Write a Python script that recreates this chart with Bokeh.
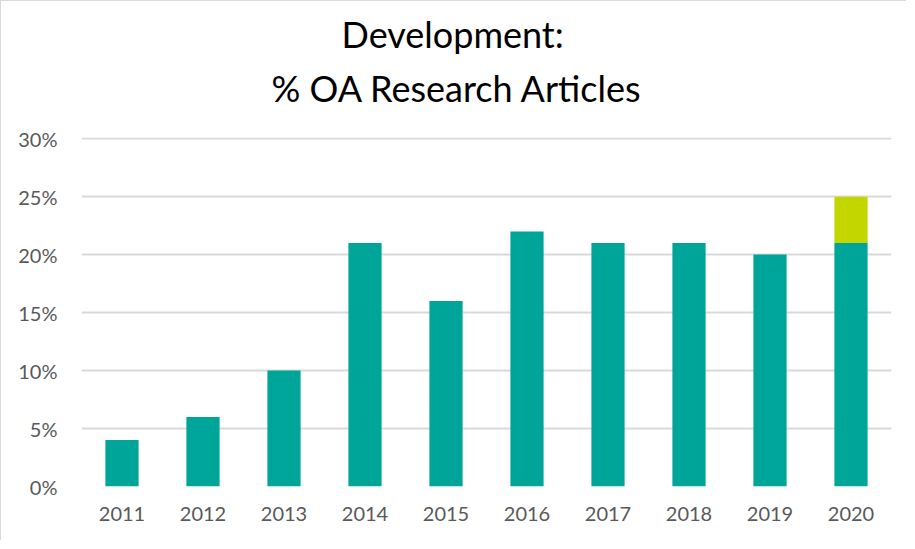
from bokeh.plotting import figure
from bokeh.models import ColumnDataSource, Range1d, FactorRange, Title, FixedTicker, CustomJSTickFormatter
from bokeh.embed import file_html
from bokeh.resources import INLINE

years = ["2011", "2012", "2013", "2014", "2015", "2016", "2017", "2018", "2019", "2020"]
oa_share = [4, 6, 10, 21, 16, 22, 21, 21, 20, 21]
oa_extra = [0, 0, 0, 0, 0, 0, 0, 0, 0, 4]
y_ticks = [0, 5, 10, 15, 20, 25, 30]

TEAL = "#00A59A"
LIME = "#C4D600"
FONT = "Lato"

src = ColumnDataSource(dict(year=years, base=oa_share, extra=oa_extra))

p = figure(width=906, height=540, x_range=FactorRange(*years), y_range=Range1d(0, 30.1),
           output_backend="svg", toolbar_location=None, title=None,
           min_border_left=80, min_border_right=16, min_border_bottom=55, min_border_top=0)
p.styles = {"border-left": "1px solid #d9d9d9", "border-top": "1px solid #d9d9d9"}

p.vbar_stack(["base", "extra"], x="year", width=0.41, source=src,
             color=[TEAL, LIME], line_color=None)

def spacer(size, standoff):
    return Title(text="\u00a0", align="left", text_font=FONT,
                 text_font_size=size, text_color="#ffffff", standoff=standoff)

t2 = Title(text="% OA Research Articles", align="left", text_font=FONT,
           text_font_size="36px", text_font_style="normal", text_color="#000000",
           offset=190, standoff=8)
t1 = Title(text="Development:", align="left", text_font=FONT,
           text_font_size="36px", text_font_style="normal", text_color="#000000",
           offset=260, standoff=8)
p.add_layout(spacer("10px", 10), "above")
p.add_layout(t2, "above")
p.add_layout(t1, "above")
p.add_layout(spacer("2px", 0), "above")

p.outline_line_color = None
p.xgrid.grid_line_color = None
p.ygrid.grid_line_color = "#d9d9d9"
p.ygrid.grid_line_width = 2
p.yaxis.ticker = FixedTicker(ticks=y_ticks)
p.yaxis.formatter = CustomJSTickFormatter(code="return tick + '%';")
for ax in (p.xaxis, p.yaxis):
    ax.axis_line_color = None
    ax.major_tick_line_color = None
    ax.minor_tick_line_color = None
    ax.major_label_text_font = FONT
    ax.major_label_text_font_size = "20px"
    ax.major_label_text_color = "#595959"
p.yaxis.major_label_standoff = 18
p.xaxis.major_label_standoff = 14

open("out.html", "w").write(file_html(p, INLINE))
